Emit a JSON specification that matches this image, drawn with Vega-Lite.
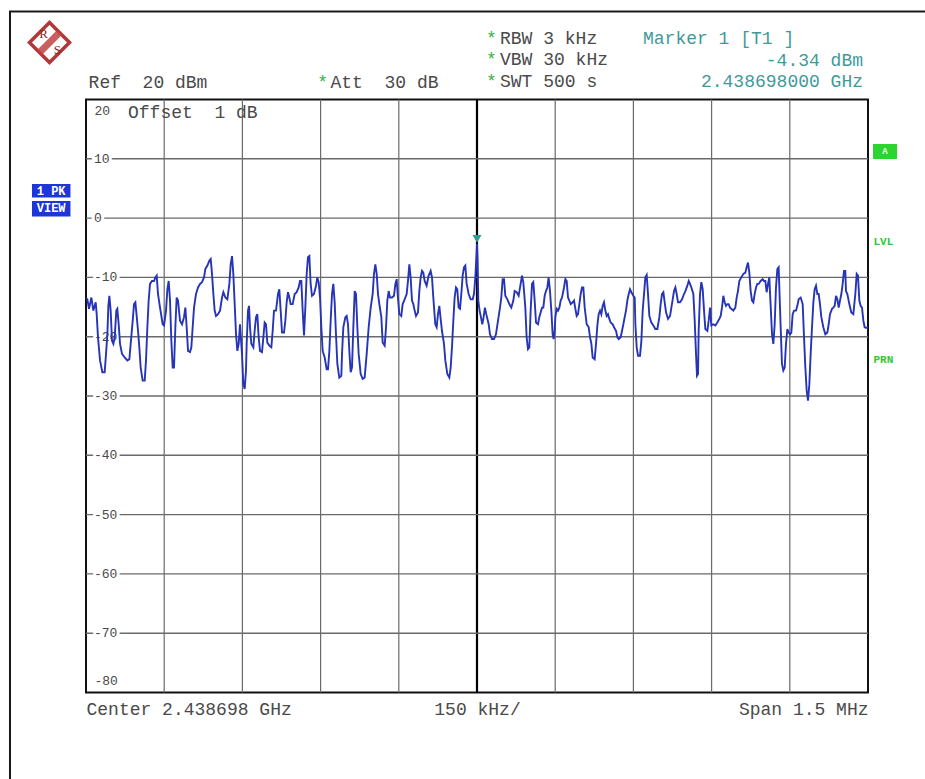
{
  "$schema": "https://vega.github.io/schema/vega-lite/v6.json",
  "width": 782,
  "height": 593,
  "autosize": {"type": "none"},
  "padding": {"left": 86, "top": 99.5, "right": 57, "bottom": 86.5},
  "background": "white",
  "config": {"view": {"stroke": "#111111", "strokeWidth": 2}, "font": "Liberation Mono"},
  "datasets": {
    "ticks": [
      {"v": 10, "t": "10"}, {"v": 0, "t": "0"}, {"v": -10, "t": "-10"}, {"v": -20, "t": "-20"},
      {"v": -30, "t": "-30"}, {"v": -40, "t": "-40"}, {"v": -50, "t": "-50"}, {"v": -60, "t": "-60"}, {"v": -70, "t": "-70"}
    ],
    "vgrid": [
      {"g": -600}, {"g": -450}, {"g": -300}, {"g": -150}, {"g": 0}, {"g": 150}, {"g": 300}, {"g": 450}, {"g": 600}
    ]
  },
  "data": {"values": [
    {"f":-750,"dbm":-13.5},{"f":-747.4,"dbm":-13.7},{"f":-744.2,"dbm":-15.3},{"f":-739.7,"dbm":-13.4},{"f":-735.9,"dbm":-15.6},{"f":-731.4,"dbm":-14.2},{"f":-729.5,"dbm":-16.2},{"f":-727.0,"dbm":-20.1},{"f":-723.1,"dbm":-24.0},{"f":-718.6,"dbm":-26.0},{"f":-714.2,"dbm":-26.0},{"f":-711.6,"dbm":-22.9},{"f":-709.0,"dbm":-19.6},{"f":-707.1,"dbm":-14.8},{"f":-705.2,"dbm":-13.1},{"f":-702.7,"dbm":-15.6},{"f":-700.1,"dbm":-20.7},{"f":-697.5,"dbm":-21.2},{"f":-695.0,"dbm":-20.1},{"f":-691.8,"dbm":-15.6},{"f":-689.9,"dbm":-15.3},{"f":-687.3,"dbm":-17.9},{"f":-684.7,"dbm":-21.2},{"f":-680.9,"dbm":-22.9},{"f":-675.8,"dbm":-23.5},{"f":-670.7,"dbm":-24.0},{"f":-666.8,"dbm":-23.8},{"f":-664.3,"dbm":-21.2},{"f":-660.4,"dbm":-17.3},{"f":-657.9,"dbm":-14.5},{"f":-655.3,"dbm":-14.2},{"f":-652.8,"dbm":-16.5},{"f":-650.2,"dbm":-19.0},{"f":-647.7,"dbm":-21.8},{"f":-645.1,"dbm":-25.2},{"f":-641.3,"dbm":-27.4},{"f":-637.4,"dbm":-27.4},{"f":-634.9,"dbm":-24.0},{"f":-632.3,"dbm":-18.4},{"f":-629.8,"dbm":-13.9},{"f":-627.2,"dbm":-11.1},{"f":-623.4,"dbm":-10.6},{"f":-619.5,"dbm":-10.6},{"f":-617.0,"dbm":-10.0},{"f":-614.4,"dbm":-9.7},{"f":-611.9,"dbm":-12.8},{"f":-608.0,"dbm":-15.1},{"f":-602.9,"dbm":-17.9},{"f":-600.3,"dbm":-18.1},{"f":-596.5,"dbm":-15.6},{"f":-593.9,"dbm":-12.0},{"f":-591.4,"dbm":-10.6},{"f":-588.8,"dbm":-13.9},{"f":-586.3,"dbm":-20.7},{"f":-583.7,"dbm":-25.2},{"f":-581.2,"dbm":-25.2},{"f":-578.6,"dbm":-18.4},{"f":-576.1,"dbm":-13.4},{"f":-573.5,"dbm":-13.9},{"f":-569.7,"dbm":-17.3},{"f":-565.8,"dbm":-17.9},{"f":-562.0,"dbm":-16.7},{"f":-559.4,"dbm":-15.1},{"f":-556.9,"dbm":-18.4},{"f":-554.3,"dbm":-22.4},{"f":-550.5,"dbm":-22.6},{"f":-547.9,"dbm":-21.8},{"f":-545.4,"dbm":-18.4},{"f":-542.8,"dbm":-15.1},{"f":-539.0,"dbm":-12.8},{"f":-535.1,"dbm":-11.7},{"f":-531.3,"dbm":-11.1},{"f":-527.5,"dbm":-10.8},{"f":-523.6,"dbm":-10.0},{"f":-521.1,"dbm":-8.6},{"f":-517.2,"dbm":-8.0},{"f":-513.4,"dbm":-7.2},{"f":-510.8,"dbm":-6.9},{"f":-508.3,"dbm":-9.4},{"f":-505.7,"dbm":-12.8},{"f":-503.2,"dbm":-15.6},{"f":-500.6,"dbm":-16.5},{"f":-496.8,"dbm":-16.2},{"f":-492.9,"dbm":-15.6},{"f":-489.1,"dbm":-13.4},{"f":-486.5,"dbm":-12.5},{"f":-482.7,"dbm":-13.4},{"f":-478.9,"dbm":-13.7},{"f":-475.0,"dbm":-11.1},{"f":-472.5,"dbm":-7.8},{"f":-469.9,"dbm":-6.4},{"f":-467.4,"dbm":-9.4},{"f":-464.8,"dbm":-14.5},{"f":-462.2,"dbm":-19.6},{"f":-459.7,"dbm":-22.4},{"f":-457.1,"dbm":-21.2},{"f":-454.6,"dbm":-17.9},
    {"f":-450.8,"dbm":-22.9},{"f":-448.2,"dbm":-28.0},{"f":-445.6,"dbm":-28.8},{"f":-443.1,"dbm":-25.7},{"f":-441.8,"dbm":-21.2},{"f":-439.3,"dbm":-15.6},{"f":-437.3,"dbm":-14.8},{"f":-435.4,"dbm":-18.4},{"f":-432.9,"dbm":-21.2},{"f":-429.0,"dbm":-21.8},{"f":-426.5,"dbm":-19.0},{"f":-423.9,"dbm":-16.7},{"f":-421.4,"dbm":-16.2},{"f":-418.8,"dbm":-20.1},{"f":-416.2,"dbm":-22.4},{"f":-412.4,"dbm":-22.6},{"f":-409.8,"dbm":-20.1},{"f":-407.3,"dbm":-17.6},{"f":-404.7,"dbm":-17.9},{"f":-402.2,"dbm":-21.0},{"f":-398.3,"dbm":-21.5},{"f":-394.5,"dbm":-21.8},{"f":-391.9,"dbm":-19.0},{"f":-389.4,"dbm":-15.6},{"f":-385.5,"dbm":-15.6},{"f":-381.7,"dbm":-12.8},{"f":-379.2,"dbm":-12.0},{"f":-376.6,"dbm":-15.6},{"f":-374.0,"dbm":-19.3},{"f":-370.2,"dbm":-19.3},{"f":-367.6,"dbm":-17.3},{"f":-365.1,"dbm":-14.2},{"f":-362.5,"dbm":-12.5},{"f":-360.0,"dbm":-13.4},{"f":-357.4,"dbm":-14.5},{"f":-353.6,"dbm":-14.5},{"f":-349.7,"dbm":-12.8},{"f":-345.9,"dbm":-12.5},{"f":-342.1,"dbm":-11.7},{"f":-339.5,"dbm":-10.6},{"f":-337.0,"dbm":-10.6},{"f":-334.4,"dbm":-15.6},{"f":-331.8,"dbm":-19.8},{"f":-329.3,"dbm":-15.1},{"f":-326.7,"dbm":-9.4},{"f":-324.2,"dbm":-6.6},{"f":-321.6,"dbm":-6.4},{"f":-319.1,"dbm":-11.1},{"f":-316.5,"dbm":-13.1},{"f":-312.7,"dbm":-12.8},{"f":-308.8,"dbm":-11.4},{"f":-306.3,"dbm":-10.0},{"f":-303.7,"dbm":-10.8},{"f":-301.1,"dbm":-13.4},{"f":-298.6,"dbm":-18.4},{"f":-296.0,"dbm":-22.4},{"f":-292.2,"dbm":-23.5},{"f":-288.4,"dbm":-25.5},{"f":-285.8,"dbm":-25.5},{"f":-283.2,"dbm":-22.4},{"f":-280.7,"dbm":-17.3},{"f":-278.1,"dbm":-12.8},{"f":-275.6,"dbm":-11.1},{"f":-273.0,"dbm":-14.2},{"f":-270.5,"dbm":-19.6},{"f":-267.9,"dbm":-24.6},{"f":-264.1,"dbm":-26.9},{"f":-260.2,"dbm":-26.6},{"f":-258.9,"dbm":-22.9},{"f":-256.4,"dbm":-18.4},{"f":-252.5,"dbm":-16.7},{"f":-250.0,"dbm":-16.5},{"f":-247.4,"dbm":-17.9},{"f":-244.9,"dbm":-22.4},{"f":-242.3,"dbm":-26.0},{"f":-239.8,"dbm":-25.2},{"f":-237.2,"dbm":-18.4},{"f":-234.6,"dbm":-12.3},{"f":-232.1,"dbm":-12.8},{"f":-229.5,"dbm":-18.4},{"f":-227.0,"dbm":-22.9},{"f":-223.1,"dbm":-26.3},{"f":-219.3,"dbm":-27.1},{"f":-215.5,"dbm":-26.9},{"f":-211.6,"dbm":-22.9},{"f":-207.8,"dbm":-18.4},{"f":-203.9,"dbm":-15.1},{"f":-200.1,"dbm":-12.8},{"f":-197.6,"dbm":-9.4},{"f":-195.0,"dbm":-7.8},{"f":-192.4,"dbm":-9.4},{"f":-189.9,"dbm":-12.8},{"f":-187.3,"dbm":-14.5},{"f":-183.5,"dbm":-16.7},{"f":-180.9,"dbm":-21.0},{"f":-177.1,"dbm":-21.5},{"f":-174.5,"dbm":-18.4},{"f":-172.0,"dbm":-13.9},{"f":-169.4,"dbm":-12.3},{"f":-166.9,"dbm":-13.4},{"f":-163.0,"dbm":-13.4},{"f":-159.2,"dbm":-13.1},{"f":-156.6,"dbm":-11.1},{"f":-154.1,"dbm":-10.3},
    {"f":-152.2,"dbm":-12.8},{"f":-149.0,"dbm":-16.2},{"f":-145.2,"dbm":-16.5},{"f":-142.6,"dbm":-14.5},{"f":-138.8,"dbm":-13.7},{"f":-134.9,"dbm":-12.8},{"f":-132.4,"dbm":-10.6},{"f":-129.8,"dbm":-7.8},{"f":-127.3,"dbm":-10.0},{"f":-124.7,"dbm":-13.9},{"f":-122.2,"dbm":-14.5},{"f":-119.6,"dbm":-15.6},{"f":-117.0,"dbm":-16.5},{"f":-113.2,"dbm":-15.9},{"f":-110.6,"dbm":-12.3},{"f":-108.1,"dbm":-10.0},{"f":-105.5,"dbm":-8.9},{"f":-103.0,"dbm":-9.2},{"f":-100.4,"dbm":-10.6},{"f":-96.6,"dbm":-11.4},{"f":-92.7,"dbm":-9.7},{"f":-88.9,"dbm":-8.9},{"f":-86.3,"dbm":-10.0},{"f":-83.8,"dbm":-13.4},{"f":-80.0,"dbm":-17.9},{"f":-77.4,"dbm":-18.4},{"f":-74.8,"dbm":-16.2},{"f":-72.3,"dbm":-14.8},{"f":-69.7,"dbm":-17.0},{"f":-67.2,"dbm":-19.0},{"f":-63.3,"dbm":-21.2},{"f":-60.8,"dbm":-24.0},{"f":-56.9,"dbm":-26.3},{"f":-53.1,"dbm":-26.9},{"f":-50.5,"dbm":-25.2},{"f":-48.0,"dbm":-21.8},{"f":-45.4,"dbm":-17.3},{"f":-42.9,"dbm":-13.4},{"f":-40.3,"dbm":-11.7},{"f":-37.8,"dbm":-12.0},{"f":-35.2,"dbm":-15.1},{"f":-32.6,"dbm":-15.3},{"f":-30.1,"dbm":-12.8},{"f":-27.5,"dbm":-9.7},{"f":-25.0,"dbm":-8.3},{"f":-22.4,"dbm":-8.0},{"f":-19.8,"dbm":-11.1},{"f":-16.0,"dbm":-12.8},{"f":-12.2,"dbm":-13.7},{"f":-8.3,"dbm":-13.7},{"f":-5.8,"dbm":-12.8},{"f":-3.2,"dbm":-10.0},{"f":-0.6,"dbm":-5.5},{"f":0,"dbm":-4.34},{"f":1.2,"dbm":-7.2},{"f":2.5,"dbm":-13.9},{"f":5.0,"dbm":-15.6},{"f":7.6,"dbm":-16.7},{"f":10.1,"dbm":-17.9},{"f":12.7,"dbm":-16.7},{"f":15.2,"dbm":-15.1},{"f":17.8,"dbm":-16.2},{"f":22.4,"dbm":-17.9},{"f":24.9,"dbm":-19.6},{"f":28.7,"dbm":-20.4},{"f":32.6,"dbm":-20.4},{"f":36.4,"dbm":-19.6},{"f":40.3,"dbm":-17.3},{"f":44.1,"dbm":-15.1},{"f":46.6,"dbm":-13.4},{"f":49.2,"dbm":-10.3},{"f":51.8,"dbm":-10.3},{"f":54.3,"dbm":-13.1},{"f":58.2,"dbm":-13.7},{"f":62.0,"dbm":-14.5},{"f":65.8,"dbm":-15.1},{"f":69.7,"dbm":-13.9},{"f":72.2,"dbm":-12.3},{"f":76.1,"dbm":-12.5},{"f":79.9,"dbm":-13.1},{"f":83.7,"dbm":-11.1},{"f":86.3,"dbm":-9.7},{"f":88.8,"dbm":-10.8},{"f":92.7,"dbm":-15.1},{"f":95.2,"dbm":-20.1},{"f":97.8,"dbm":-22.1},{"f":100.4,"dbm":-21.8},{"f":102.9,"dbm":-15.6},{"f":105.5,"dbm":-11.1},{"f":108.0,"dbm":-10.8},{"f":110.6,"dbm":-13.9},{"f":113.2,"dbm":-17.6},{"f":117.0,"dbm":-17.9},{"f":119.5,"dbm":-16.7},{"f":122.1,"dbm":-15.9},{"f":124.7,"dbm":-15.1},{"f":127.2,"dbm":-15.1},{"f":129.8,"dbm":-13.1},{"f":132.3,"dbm":-12.3},{"f":134.9,"dbm":-11.7},{"f":137.4,"dbm":-10.0},{"f":140.0,"dbm":-12.3},{"f":142.6,"dbm":-15.6},{"f":145.1,"dbm":-19.6},
    {"f":147.0,"dbm":-20.4},{"f":149.0,"dbm":-19.0},{"f":150.3,"dbm":-16.7},{"f":152.9,"dbm":-15.3},{"f":155.4,"dbm":-15.6},{"f":158.0,"dbm":-15.1},{"f":160.5,"dbm":-13.9},{"f":163.1,"dbm":-13.4},{"f":166.9,"dbm":-11.7},{"f":169.5,"dbm":-10.3},{"f":172.0,"dbm":-10.6},{"f":174.6,"dbm":-13.4},{"f":177.1,"dbm":-13.9},{"f":179.7,"dbm":-14.5},{"f":183.5,"dbm":-14.2},{"f":186.1,"dbm":-13.9},{"f":188.7,"dbm":-15.3},{"f":191.2,"dbm":-16.5},{"f":193.8,"dbm":-16.2},{"f":196.3,"dbm":-14.5},{"f":198.9,"dbm":-12.8},{"f":201.4,"dbm":-11.7},{"f":204.0,"dbm":-11.7},{"f":206.6,"dbm":-15.1},{"f":210.4,"dbm":-17.9},{"f":214.2,"dbm":-18.4},{"f":216.8,"dbm":-20.1},{"f":219.4,"dbm":-21.2},{"f":221.9,"dbm":-23.5},{"f":225.7,"dbm":-23.8},{"f":228.3,"dbm":-21.2},{"f":230.9,"dbm":-18.1},{"f":233.4,"dbm":-16.2},{"f":236.0,"dbm":-15.6},{"f":238.5,"dbm":-16.2},{"f":241.1,"dbm":-14.8},{"f":243.6,"dbm":-14.2},{"f":246.2,"dbm":-15.6},{"f":248.8,"dbm":-16.5},{"f":251.3,"dbm":-16.2},{"f":253.9,"dbm":-17.0},{"f":256.4,"dbm":-17.6},{"f":260.3,"dbm":-17.9},{"f":262.8,"dbm":-18.4},{"f":266.7,"dbm":-19.0},{"f":269.2,"dbm":-20.1},{"f":271.8,"dbm":-20.4},{"f":275.6,"dbm":-20.1},{"f":278.2,"dbm":-19.0},{"f":280.7,"dbm":-17.9},{"f":283.3,"dbm":-16.7},{"f":285.8,"dbm":-15.6},{"f":288.4,"dbm":-13.9},{"f":291.0,"dbm":-12.8},{"f":293.5,"dbm":-12.0},{"f":296.1,"dbm":-12.5},{"f":299.9,"dbm":-13.1},{"f":302.5,"dbm":-13.4},{"f":303.8,"dbm":-17.9},{"f":306.3,"dbm":-21.8},{"f":308.9,"dbm":-23.2},{"f":312.7,"dbm":-23.2},{"f":315.3,"dbm":-20.7},{"f":317.8,"dbm":-15.6},{"f":320.4,"dbm":-12.8},{"f":322.9,"dbm":-10.0},{"f":325.5,"dbm":-9.6},{"f":328.0,"dbm":-12.8},{"f":330.6,"dbm":-16.5},{"f":334.4,"dbm":-17.6},{"f":338.3,"dbm":-18.1},{"f":342.1,"dbm":-18.7},{"f":346.0,"dbm":-18.7},{"f":349.8,"dbm":-16.7},{"f":352.3,"dbm":-14.5},{"f":354.9,"dbm":-12.8},{"f":357.5,"dbm":-12.5},{"f":360.0,"dbm":-14.2},{"f":362.6,"dbm":-15.9},{"f":366.4,"dbm":-17.0},{"f":370.3,"dbm":-16.5},{"f":372.8,"dbm":-15.1},{"f":375.4,"dbm":-13.7},{"f":377.9,"dbm":-12.3},{"f":380.5,"dbm":-11.7},{"f":383.0,"dbm":-12.8},{"f":385.6,"dbm":-14.2},{"f":389.4,"dbm":-14.2},{"f":393.3,"dbm":-13.7},{"f":397.1,"dbm":-12.8},{"f":399.7,"dbm":-12.3},{"f":403.5,"dbm":-11.4},{"f":406.1,"dbm":-10.6},{"f":408.6,"dbm":-11.1},{"f":411.2,"dbm":-11.7},{"f":415.0,"dbm":-12.8},{"f":417.6,"dbm":-17.3},{"f":420.1,"dbm":-22.9},{"f":422.0,"dbm":-26.6},{"f":424.0,"dbm":-26.3},{"f":425.2,"dbm":-19.0},{"f":427.8,"dbm":-12.8},{"f":430.3,"dbm":-10.8},{"f":432.9,"dbm":-12.0},{"f":435.5,"dbm":-15.6},{"f":438.0,"dbm":-18.7},{"f":441.9,"dbm":-19.0},{"f":444.4,"dbm":-17.3},{"f":447.0,"dbm":-15.1},
    {"f":449.5,"dbm":-18.1},{"f":453.3,"dbm":-17.9},{"f":457.2,"dbm":-18.1},{"f":461.0,"dbm":-17.6},{"f":464.8,"dbm":-17.0},{"f":467.4,"dbm":-16.5},{"f":469.9,"dbm":-15.1},{"f":472.5,"dbm":-13.1},{"f":475.1,"dbm":-14.2},{"f":477.6,"dbm":-14.8},{"f":480.2,"dbm":-14.5},{"f":482.7,"dbm":-14.5},{"f":485.3,"dbm":-15.1},{"f":487.9,"dbm":-15.3},{"f":491.7,"dbm":-15.6},{"f":495.5,"dbm":-15.1},{"f":498.1,"dbm":-13.4},{"f":500.6,"dbm":-12.3},{"f":503.2,"dbm":-10.6},{"f":507.0,"dbm":-10.0},{"f":510.9,"dbm":-9.4},{"f":514.7,"dbm":-9.2},{"f":517.3,"dbm":-8.3},{"f":519.8,"dbm":-7.5},{"f":522.4,"dbm":-9.2},{"f":524.9,"dbm":-12.3},{"f":527.5,"dbm":-13.9},{"f":530.1,"dbm":-14.2},{"f":532.6,"dbm":-12.8},{"f":535.2,"dbm":-11.7},{"f":537.7,"dbm":-11.1},{"f":540.3,"dbm":-11.1},{"f":544.1,"dbm":-10.6},{"f":548.0,"dbm":-10.3},{"f":550.5,"dbm":-10.6},{"f":553.1,"dbm":-10.6},{"f":555.6,"dbm":-12.5},{"f":558.2,"dbm":-11.1},{"f":560.7,"dbm":-10.0},{"f":563.3,"dbm":-14.8},{"f":565.9,"dbm":-19.6},{"f":568.4,"dbm":-21.2},{"f":571.0,"dbm":-17.9},{"f":573.5,"dbm":-11.7},{"f":576.1,"dbm":-8.6},{"f":578.6,"dbm":-8.3},{"f":579.9,"dbm":-11.7},{"f":582.5,"dbm":-18.4},{"f":585.0,"dbm":-24.6},{"f":587.6,"dbm":-25.7},{"f":590.2,"dbm":-25.2},{"f":592.7,"dbm":-21.2},{"f":595.3,"dbm":-18.7},{"f":597.8,"dbm":-19.3},{"f":600.4,"dbm":-19.6},{"f":602.9,"dbm":-19.3},{"f":605.5,"dbm":-16.2},{"f":608.1,"dbm":-15.6},{"f":611.9,"dbm":-15.6},{"f":614.5,"dbm":-14.8},{"f":617.0,"dbm":-13.7},{"f":620.9,"dbm":-13.4},{"f":624.7,"dbm":-14.5},{"f":627.3,"dbm":-20.1},{"f":629.8,"dbm":-25.2},{"f":632.4,"dbm":-29.1},{"f":634.9,"dbm":-30.8},{"f":637.5,"dbm":-28.0},{"f":640.0,"dbm":-22.9},{"f":642.6,"dbm":-18.4},{"f":645.2,"dbm":-14.2},{"f":647.7,"dbm":-12.0},{"f":650.3,"dbm":-11.4},{"f":652.8,"dbm":-12.8},{"f":655.4,"dbm":-12.8},{"f":657.9,"dbm":-14.5},{"f":660.5,"dbm":-16.7},{"f":664.3,"dbm":-18.4},{"f":668.2,"dbm":-19.6},{"f":672.0,"dbm":-19.3},{"f":674.6,"dbm":-17.9},{"f":677.1,"dbm":-16.2},{"f":681.0,"dbm":-15.3},{"f":683.5,"dbm":-15.1},{"f":686.1,"dbm":-14.8},{"f":688.6,"dbm":-13.1},{"f":691.2,"dbm":-13.7},{"f":693.8,"dbm":-15.1},{"f":696.3,"dbm":-13.9},{"f":698.9,"dbm":-12.8},{"f":701.4,"dbm":-11.1},{"f":704.0,"dbm":-8.9},{"f":706.5,"dbm":-8.9},{"f":707.8,"dbm":-12.3},{"f":710.4,"dbm":-12.8},{"f":714.2,"dbm":-14.5},{"f":718.0,"dbm":-15.9},{"f":721.9,"dbm":-16.2},{"f":725.7,"dbm":-12.8},{"f":728.3,"dbm":-9.4},{"f":730.8,"dbm":-9.7},{"f":733.4,"dbm":-13.9},{"f":735.9,"dbm":-14.8},{"f":738.5,"dbm":-15.1},{"f":741.1,"dbm":-17.3},{"f":743.6,"dbm":-18.4},{"f":746.2,"dbm":-18.5},{"f":750,"dbm":-18.5}
  ]},
  "layer": [
    {
      "layer": [
        {
          "data": {"values": [{}]},
          "mark": {"type": "rect", "fillOpacity": 0, "stroke": "#1a1a1a", "strokeWidth": 2, "clip": false},
          "encoding": {
            "x": {"datum": -895.8, "type": "quantitative"},
            "x2": {"datum": 897.7},
            "y": {"datum": 34.84, "type": "quantitative"},
            "y2": {"datum": -98.1}
          }
        },
        {
          "data": {"values": [{}]},
          "mark": {"type": "point", "shape": "diamond", "size": 1600, "filled": false, "stroke": "#b03838", "strokeWidth": 3.5, "opacity": 1, "clip": false},
          "encoding": {
            "x": {"datum": -820.0, "type": "quantitative"},
            "y": {"datum": 29.61, "type": "quantitative"}
          }
        },
        {
          "data": {"values": [{}]},
          "mark": {"type": "point", "shape": "M-0.62,0.38L0.38,-0.62L0.62,-0.38L-0.38,0.62Z", "size": 1600, "filled": true, "color": "#c04444", "opacity": 0.85, "clip": false},
          "encoding": {
            "x": {"datum": -820.0, "type": "quantitative"},
            "y": {"datum": 29.61, "type": "quantitative"}
          }
        },
        {
          "data": {"values": [{}]},
          "mark": {"type": "text", "font": "Liberation Serif", "fontSize": 13, "color": "#8a2a2a", "align": "center", "baseline": "middle", "clip": false},
          "encoding": {
            "x": {"datum": -831.5, "type": "quantitative"},
            "y": {"datum": 31.05, "type": "quantitative"},
            "text": {"value": "R"}
          }
        },
        {
          "data": {"values": [{}]},
          "mark": {"type": "text", "font": "Liberation Serif", "fontSize": 13, "color": "#8a2a2a", "align": "center", "baseline": "middle", "clip": false},
          "encoding": {
            "x": {"datum": -804.7, "type": "quantitative"},
            "y": {"datum": 28.35, "type": "quantitative"},
            "text": {"value": "S"}
          }
        },
        {
          "data": {"values": [{}]},
          "mark": {"type": "text", "font": "Liberation Mono", "fontSize": 18, "color": "#3cb043", "align": "center", "baseline": "alphabetic", "lineHeight": 21.5, "clip": false},
          "encoding": {
            "x": {"datum": 27.8, "type": "quantitative"},
            "y": {"datum": 29.36, "type": "quantitative"},
            "text": {"value": ["*", "*", "*"]}
          }
        },
        {
          "data": {"values": [{}]},
          "mark": {"type": "text", "font": "Liberation Mono", "fontSize": 18, "color": "#4a4a4a", "align": "left", "baseline": "alphabetic", "lineHeight": 21.5, "clip": false},
          "encoding": {
            "x": {"datum": 44.1, "type": "quantitative"},
            "y": {"datum": 29.36, "type": "quantitative"},
            "text": {"value": ["RBW 3 kHz", "VBW 30 kHz", "SWT 500 s"]}
          }
        },
        {
          "data": {"values": [{}]},
          "mark": {"type": "text", "font": "Liberation Mono", "fontSize": 18, "color": "#3f9a9a", "align": "left", "baseline": "alphabetic", "clip": false},
          "encoding": {
            "x": {"datum": 318.4, "type": "quantitative"},
            "y": {"datum": 29.36, "type": "quantitative"},
            "text": {"value": "Marker 1 [T1 ]"}
          }
        },
        {
          "data": {"values": [{}]},
          "mark": {"type": "text", "font": "Liberation Mono", "fontSize": 18, "color": "#3f9a9a", "align": "right", "baseline": "alphabetic", "lineHeight": 21.5, "clip": false},
          "encoding": {
            "x": {"datum": 740.4, "type": "quantitative"},
            "y": {"datum": 25.73, "type": "quantitative"},
            "text": {"value": ["-4.34 dBm", "2.438698000 GHz"]}
          }
        },
        {
          "data": {"values": [{}]},
          "mark": {"type": "rect", "color": "#1e36d8", "clip": false},
          "encoding": {
            "x": {"datum": -853.6, "type": "quantitative"},
            "x2": {"datum": -779.8},
            "y": {"datum": 5.75, "type": "quantitative"},
            "y2": {"datum": 3.47}
          }
        },
        {
          "data": {"values": [{}]},
          "mark": {"type": "rect", "color": "#1e36d8", "clip": false},
          "encoding": {
            "x": {"datum": -853.6, "type": "quantitative"},
            "x2": {"datum": -779.8},
            "y": {"datum": 2.88, "type": "quantitative"},
            "y2": {"datum": 0.27}
          }
        },
        {
          "data": {"values": [{}]},
          "mark": {"type": "text", "font": "Liberation Mono", "fontSize": 12, "fontWeight": "bold", "color": "white", "align": "center", "baseline": "middle", "clip": false},
          "encoding": {
            "x": {"datum": -816.8, "type": "quantitative"},
            "y": {"datum": 4.57, "type": "quantitative"},
            "text": {"value": "1 PK"}
          }
        },
        {
          "data": {"values": [{}]},
          "mark": {"type": "text", "font": "Liberation Mono", "fontSize": 12, "fontWeight": "bold", "color": "white", "align": "center", "baseline": "middle", "clip": false},
          "encoding": {
            "x": {"datum": -816.8, "type": "quantitative"},
            "y": {"datum": 1.62, "type": "quantitative"},
            "text": {"value": "VIEW"}
          }
        },
        {
          "data": {"values": [{}]},
          "mark": {"type": "rect", "color": "#2dd42d", "clip": false},
          "encoding": {
            "x": {"datum": 759.6, "type": "quantitative"},
            "x2": {"datum": 805.6},
            "y": {"datum": 12.5, "type": "quantitative"},
            "y2": {"datum": 9.97}
          }
        },
        {
          "data": {"values": [{}]},
          "mark": {"type": "text", "font": "Liberation Mono", "fontSize": 9, "fontWeight": "bold", "color": "#e8ffe8", "align": "center", "baseline": "middle", "clip": false},
          "encoding": {
            "x": {"datum": 782.6, "type": "quantitative"},
            "y": {"datum": 11.24, "type": "quantitative"},
            "text": {"value": "A"}
          }
        },
        {
          "data": {"name": "vgrid"},
          "mark": {"type": "rule"},
          "encoding": {
            "x": {"field": "g", "type": "quantitative"},
            "y": {"datum": 20, "type": "quantitative"},
            "y2": {"datum": -80},
            "color": {"condition": {"test": "datum.g == 0", "value": "#000000"}, "value": "#6a6a6a"},
            "strokeWidth": {"condition": {"test": "datum.g == 0", "value": 2.2}, "value": 1.2}
          }
        },
        {
          "data": {"name": "ticks"},
          "mark": {"type": "rule", "color": "#6a6a6a", "strokeWidth": 1.4},
          "encoding": {
            "y": {"field": "v", "type": "quantitative"},
            "x": {"datum": -750, "type": "quantitative"},
            "x2": {"datum": 750}
          }
        },
        {
          "data": {"name": "ticks"},
          "mark": {"type": "text", "font": "Liberation Mono", "fontSize": 13, "color": "white", "stroke": "white", "strokeWidth": 6, "align": "left", "baseline": "middle", "clip": false},
          "encoding": {
            "x": {"datum": -734.7, "type": "quantitative"},
            "y": {"field": "v", "type": "quantitative"},
            "text": {"field": "t"}
          }
        },
        {
          "data": {"name": "ticks"},
          "mark": {"type": "text", "font": "Liberation Mono", "fontSize": 13, "color": "#4a4a4a", "align": "left", "baseline": "middle", "clip": false},
          "encoding": {
            "x": {"datum": -734.7, "type": "quantitative"},
            "y": {"field": "v", "type": "quantitative"},
            "text": {"field": "t"}
          }
        },
        {
          "data": {"values": [{}]},
          "mark": {"type": "text", "font": "Liberation Mono", "fontSize": 18, "color": "#4a4a4a", "align": "left", "baseline": "top", "dy": 4, "clip": false},
          "encoding": {
            "x": {"datum": -669.4, "type": "quantitative"},
            "y": {"datum": 20, "type": "quantitative"},
            "text": {"value": "Offset\u00a0\u00a01\u00a0dB"}
          }
        },
        {
          "mark": {"type": "line", "color": "#2634b8", "strokeWidth": 1.9, "clip": true},
          "encoding": {
            "x": {
              "field": "f", "type": "quantitative",
              "scale": {"domain": [-750, 750], "nice": false, "zero": false},
              "axis": {
                "orient": "bottom", "title": null,
                "values": [-750, 0, 750],
                "grid": false, "domain": false, "ticks": false,
                "labelExpr": "datum.value < -700 ? 'Center 2.438698 GHz' : datum.value > 700 ? 'Span 1.5 MHz' : '150 kHz/'",
                "labelAlign": {"expr": "datum.value < -700 ? 'left' : datum.value > 700 ? 'right' : 'center'"},
                "labelBaseline": "top",
                "labelPadding": 8,
                "labelLimit": 0,
                "labelFont": "Liberation Mono", "labelFontSize": 18, "labelColor": "#4a4a4a",
                "labelOverlap": false, "labelFlush": false, "labelBound": false
              }
            },
            "y": {
              "field": "dbm", "type": "quantitative",
              "scale": {"domain": [-80, 20], "nice": false, "zero": false},
              "axis": {
                "orient": "left", "title": null,
                "values": [-80, 20],
                "grid": false, "domain": false, "ticks": false,
                "labelAlign": "left", "labelPadding": -8,
                "labelExpr": "datum.value > 0 ? '20' : '-80'",
                "labelBaseline": {"expr": "datum.value > 0 ? 'top' : 'bottom'"},
                "labelOffset": {"expr": "datum.value > 0 ? 5 : -5"},
                "labelFontSize": 13,
                "labelLimit": 0,
                "labelFont": "Liberation Mono", "labelColor": "#4a4a4a",
                "labelOverlap": false, "labelFlush": false, "labelBound": false
              }
            }
          }
        },
        {
          "data": {"values": [{}]},
          "mark": {"type": "point", "shape": "triangle-down", "size": 80, "filled": true, "color": "#2e9e90", "opacity": 1, "yOffset": -5, "clip": false},
          "encoding": {
            "x": {"datum": 0, "type": "quantitative"},
            "y": {"datum": -4.34, "type": "quantitative"}
          }
        }
      ]
    },
    {
      "data": {"values": [{}]},
      "mark": {"type": "point", "opacity": 0},
      "encoding": {
        "x": {
          "datum": 0, "type": "quantitative",
          "scale": {"domain": [-750, 750], "nice": false, "zero": false},
          "axis": {
            "orient": "top", "title": null, "grid": false, "domain": false, "ticks": false,
            "values": [-746, -297, -282],
            "labelExpr": "datum.value < -700 ? 'Ref\u00a0\u00a020\u00a0dBm' : datum.value < -290 ? '*' : 'Att\u00a0\u00a030\u00a0dB'",
            "labelAlign": {"expr": "(datum.value > -300 && datum.value < -290) ? 'center' : 'left'"},
            "labelColor": {"expr": "(datum.value > -300 && datum.value < -290) ? '#3cb043' : '#4a4a4a'"},
            "labelBaseline": "alphabetic",
            "labelPadding": 12.5,
            "labelLimit": 0,
            "labelFont": "Liberation Mono", "labelFontSize": 18,
            "labelOverlap": false, "labelFlush": false, "labelBound": false
          }
        },
        "y": {
          "datum": 0, "type": "quantitative",
          "scale": {"domain": [-80, 20], "nice": false, "zero": false},
          "axis": {
            "orient": "right", "title": null, "grid": false, "domain": false, "ticks": false,
            "values": [-3.9, -23.9],
            "labelExpr": "datum.value > -10 ? 'LVL' : 'PRN'",
            "labelColor": "#2fc82f", "labelFont": "Liberation Mono", "labelFontSize": 11, "labelFontWeight": "bold",
            "labelPadding": 5, "labelAlign": "left", "labelBaseline": "middle",
            "labelOverlap": false, "labelFlush": false, "labelBound": false
          }
        }
      }
    }
  ],
  "resolve": {"scale": {"x": "independent", "y": "independent"}}
}
